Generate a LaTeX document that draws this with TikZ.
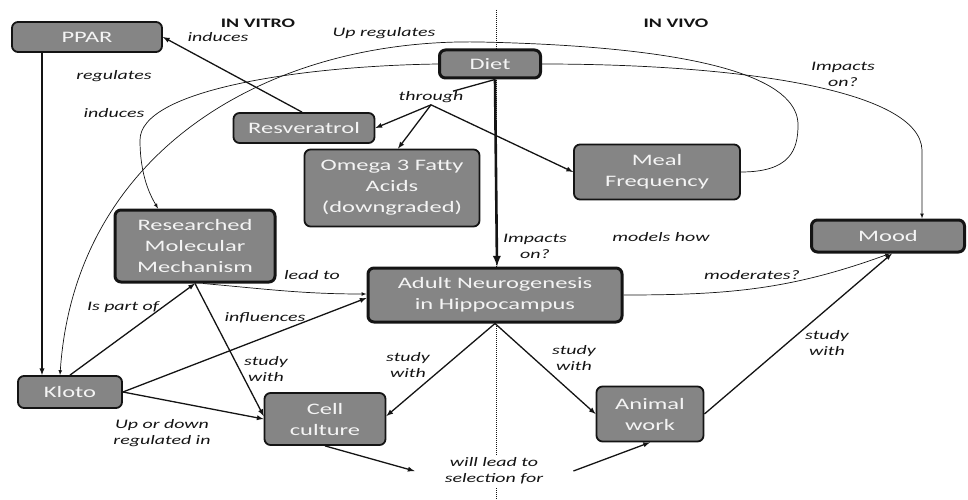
\documentclass[tikz,border=0pt]{standalone}
\usepackage{fontspec}
\setmainfont{Carlito}[FakeStretch=1.53]
\usetikzlibrary{positioning}
\definecolor{boxgrey}{HTML}{858585}
\definecolor{boxtext}{HTML}{F4F4F4}
\definecolor{inkblack}{HTML}{141414}

\begin{document}
\begin{tikzpicture}[x=1pt, y=-1pt, >=latex,
      concept/.style={draw=inkblack, line width=1.8pt, rounded corners=6pt, fill=boxgrey, text=boxtext, inner sep=0pt, align=center, font=\fontsize{16}{21}\selectfont},
      keyconcept/.style={concept, line width=3pt},
      arrow/.style={->, line width=1.3pt, color=inkblack},
      thinarrow/.style={->, line width=0.7pt, color=inkblack},
      linklabel/.style={text=inkblack, inner sep=2pt, align=center, font=\fontsize{13}{16}\selectfont\itshape},
      sidetitle/.style={text=inkblack, font=\fontsize{13}{15}\selectfont\bfseries}
    ]
      \useasboundingbox (0,0) rectangle (968,500);
      % in vitro / in vivo divider
      \coordinate (divtop) at (496,10);
      \coordinate (divbot) at (496,500);
      \draw[densely dotted, line width=1pt, color=inkblack] (divtop) -- (divbot);
      \node[sidetitle] (vitro) at (258,23) {IN VITRO};
      \node[sidetitle] (vivo) at (676,23) {IN VIVO};

      \node[concept, minimum width=150pt, minimum height=30pt] (ppar) at (87,37) {PPAR};
      \node[keyconcept, minimum width=101pt, minimum height=28pt] (diet) at (490,64) {Diet};
      \node[concept, minimum width=141pt, minimum height=30pt] (resv) at (304,128) {Resveratrol};
      \node[concept, minimum width=175pt, minimum height=77pt] (omega) at (392,188) {Omega 3 Fatty\\Acids\\(downgraded)};
      \node[concept, minimum width=166pt, minimum height=55pt] (meal) at (657,172) {Meal\\Frequency};
      \node[keyconcept, minimum width=160pt, minimum height=72pt] (rmm) at (195,246) {Researched\\Molecular\\Mechanism};
      \node[keyconcept, minimum width=153pt, minimum height=32pt] (mood) at (888,236) {Mood};
      \node[keyconcept, minimum width=254pt, minimum height=54pt] (ang) at (495,295) {Adult Neurogenesis\\in Hippocampus};
      \node[concept, minimum width=104pt, minimum height=32pt] (kloto) at (70,392) {Kloto};
      \node[concept, minimum width=121pt, minimum height=52pt] (cell) at (325,419) {Cell\\culture};
      \node[concept, minimum width=107pt, minimum height=55pt] (animal) at (650,414) {Animal\\work};

      \node[linklabel] (thr) at (431,97) {through};
      \node[linklabel, fill=white, inner xsep=30pt, inner ysep=3pt] (sel) at (494,471) {will lead to\\selection for};

      % straight links
      \draw[arrow] ([xshift=-45pt]ppar.south) -- ([xshift=-28pt]kloto.north);
      \draw[arrow] ([xshift=-2pt]resv.north) -- (ppar.east);
      \draw[line width=1.3pt, color=inkblack] ([xshift=5pt]diet.south) -- ([xshift=22pt,yshift=-2pt]thr.north);
      \draw[arrow] (thr.south) -- (resv.east);
      \draw[arrow] (thr.south) -- ([xshift=6pt]omega.north);
      \draw[arrow] (thr.south) -- (meal.west);
      \draw[->, line width=2.6pt, color=inkblack] ([xshift=5pt]diet.south) -- ([xshift=2pt]ang.north);
      \draw[arrow] (kloto.north) -- (rmm.south);
      \draw[arrow] (kloto.east) -- ([yshift=-3pt]ang.west);
      \draw[arrow] (kloto.east) -- (cell.west);
      \draw[arrow] (rmm.south) -- ([yshift=3pt]cell.west);
      \draw[arrow] (ang.south) -- ([yshift=3pt]cell.east);
      \draw[arrow] (ang.south) -- (animal.west);
      \draw[arrow] (animal.east) -- ([xshift=4pt]mood.south);
      \draw[arrow] (cell.south) -- (sel.west);
      \draw[arrow] (sel.east) -- (animal.south);

      % curved links
      \draw[thinarrow] ([xshift=8pt]rmm.south) to[out=-5, in=180] ([yshift=1pt]ang.west);
      \draw[thinarrow] (ang.east) to[out=0, in=-160] ([xshift=2pt]mood.south);
      \draw[thinarrow] (diet.west) .. controls (300,66) and (140,90) .. (140,140) .. controls (140,175) and (150,195) .. ([xshift=-37pt]rmm.north);
      \draw[thinarrow] (diet.east) .. controls (740,64) and (920,90) .. (922,150) -- ([xshift=34pt]mood.north);
      \draw[thinarrow] (meal.east) .. controls (790,172) and (798,150) .. (798,125) .. controls (798,95) and (760,48) .. (480,42) .. controls (270,38) and (75,150) .. ([xshift=-10pt]kloto.north);

      \node[linklabel] (l1) at (218,37) {induces};
      \node[linklabel] (l2) at (384,33) {Up regulates};
      \node[linklabel] (l3) at (114,76) {regulates};
      \node[linklabel] (l4) at (114,113) {induces};
      \node[linklabel] (l5) at (843,74) {Impacts\\on?};
      \node[linklabel] (l6) at (535,246) {Impacts\\on?};
      \node[linklabel] (l7) at (661,237) {models how};
      \node[linklabel] (l8) at (312,275) {lead to};
      \node[linklabel] (l9) at (123,307) {Is part of};
      \node[linklabel] (l10) at (265,318) {influences};
      \node[linklabel] (l11) at (266,369) {study\\with};
      \node[linklabel] (l12) at (408,365) {study\\with};
      \node[linklabel] (l13) at (162,433) {Up or down\\regulated in};
      \node[linklabel] (l14) at (574,358) {study\\with};
      \node[linklabel] (l15) at (827,343) {study\\with};
      \node[linklabel] (l16) at (752,275) {moderates?};
    \end{tikzpicture}
\end{document}
